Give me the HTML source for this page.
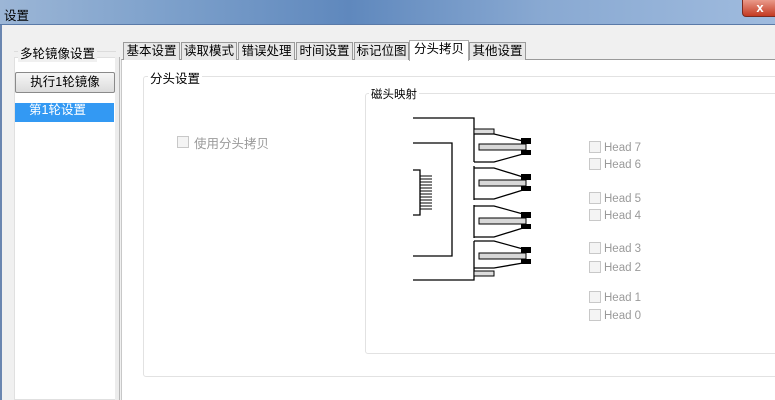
<!DOCTYPE html>
<html><head><meta charset="utf-8"><style>
*{margin:0;padding:0;box-sizing:border-box}
body{width:775px;height:400px;overflow:hidden;position:relative;background:#f0f0f0;font-family:"Liberation Sans","Noto Sans CJK SC",sans-serif;font-size:12px;color:#000}
.a{position:absolute}
.title{left:0;top:0;width:775px;height:25px;background:linear-gradient(90deg,#9cb6d6 0%,#7fa2cc 20%,#5f88bd 45%,#89a9d2 70%,#9fbbde 100%);border-bottom:1px solid #5a7aa8}
.tab{position:absolute;top:42px;height:18px;background:#e8e8e8;border:1px solid #9a9a9a;border-bottom:none;font-size:12.5px;line-height:16px;text-align:center}
.cb{position:absolute;width:12px;height:12px;border:1px solid #c8c8c8;background:#f4f4f4}
.hl{position:absolute;color:#9a9a9a;font-size:11.5px;line-height:12px}
</style></head><body>
<div class="a title"></div>
<div class="a" style="left:4px;top:5px;font-size:12.5px">设置</div>
<div class="a" style="left:742px;top:0;width:36px;height:17px;background:linear-gradient(#e99a8a,#c43a22);border:1px solid #7a2a20;border-top:none;border-radius:0 0 0 4px;color:#fff;font-weight:bold;font-size:13px;text-align:center;line-height:15px">x</div>
<div class="a" style="left:0;top:25px;width:2px;height:375px;background:#6a86b0"></div>

<div class="a" style="left:14px;top:57px;width:102px;height:343px;background:#fff;border:1px solid #e0e0e0"></div>
<div class="a" style="left:14px;top:51px;width:102px;border-top:1px solid #dcdcdc"></div>
<div class="a" style="left:18px;top:43px;background:#f0f0f0;padding:0 2px;font-size:12.5px">多轮镜像设置</div>
<div class="a" style="left:15px;top:72px;width:100px;height:21px;background:linear-gradient(#f6f6f6,#dcdcdc);border:1px solid #8a8a8a;border-radius:2px;text-align:center;line-height:19px;font-size:12.5px">执行1轮镜像</div>
<div class="a" style="left:15px;top:103px;width:99px;height:19px;background:#3399f3;color:#fff;padding-left:14px;line-height:14px;font-size:12.5px">第1轮设置</div>
<div class="a" style="left:115px;top:57px;width:5px;height:343px;background:#ececec;border-right:1px solid #b8b8b8"></div>

<div class="a" style="left:121px;top:59px;width:654px;height:341px;background:#fff;border-top:1px solid #9a9a9a;border-left:1px solid #c8c8c8"></div>
<div class="tab" style="left:123px;width:57px">基本设置</div>
<div class="tab" style="left:181px;width:56px">读取模式</div>
<div class="tab" style="left:238px;width:57px">错误处理</div>
<div class="tab" style="left:296px;width:57px">时间设置</div>
<div class="tab" style="left:354px;width:55px">标记位图</div>
<div class="tab" style="left:409px;top:40px;height:21px;width:60px;background:#fff;border-color:#aaa">分头拷贝</div>
<div class="tab" style="left:469px;width:57px">其他设置</div>

<div class="a" style="left:143px;top:76px;width:640px;height:301px;border:1px solid #e2e2e2;border-radius:3px"></div>
<div class="a" style="left:148px;top:68px;background:#fff;padding:0 2px;font-size:12.5px">分头设置</div>
<div class="cb" style="left:177px;top:136px"></div>
<div class="a" style="left:194px;top:133px;color:#9a9a9a;font-size:12.5px">使用分头拷贝</div>

<div class="a" style="left:365px;top:93px;width:420px;height:261px;border:1px solid #e2e2e2;border-radius:3px"></div>
<div class="a" style="left:369px;top:86px;background:#fff;padding:0 2px;font-size:11.5px">磁头映射</div>

<svg class="a" style="left:0;top:0" width="775" height="400">
<g fill="none" stroke="#000" stroke-width="1.3">
<polyline points="413,118 474,118 474,162"/>
<polyline points="413,280 474,280 474,268"/>
<polyline points="413,143 452,143 452,256 413,256"/>
<polyline points="413,170 420,170 420,215 413,215"/>
<line x1="474" y1="166" x2="474" y2="200"/>
<line x1="474" y1="205" x2="474" y2="238"/>
<line x1="474" y1="241" x2="474" y2="268"/>
</g>
<g stroke="#000" stroke-width="1">
<line x1="420" y1="176" x2="432" y2="176"/><line x1="420" y1="179" x2="432" y2="179"/><line x1="420" y1="182" x2="432" y2="182"/><line x1="420" y1="185" x2="432" y2="185"/><line x1="420" y1="188" x2="432" y2="188"/><line x1="420" y1="191" x2="432" y2="191"/><line x1="420" y1="194" x2="432" y2="194"/><line x1="420" y1="197" x2="432" y2="197"/><line x1="420" y1="200" x2="432" y2="200"/><line x1="420" y1="203" x2="432" y2="203"/><line x1="420" y1="206" x2="432" y2="206"/><line x1="420" y1="209" x2="432" y2="209"/>
</g>
<rect x="474" y="129" width="20" height="5" fill="#ddd" stroke="#000"/>
<rect x="474" y="271" width="20" height="5" fill="#ddd" stroke="#000"/>
<g stroke="#000" stroke-width="1.3" fill="none">
<polyline points="474,134 494,134 523,141"/><polyline points="474,162 494,162 523,154"/>
<polyline points="474,168 494,168 523,177"/><polyline points="474,199 494,199 523,190"/>
<polyline points="474,206 494,206 523,214"/><polyline points="474,237 494,237 523,228"/>
<polyline points="474,241 494,241 523,249"/><polyline points="474,268 494,268 523,263"/>
</g>
<g fill="#d8d8d8" stroke="#000" stroke-width="1">
<rect x="479" y="144" width="47" height="6"/><rect x="479" y="180" width="47" height="6"/><rect x="479" y="218" width="47" height="6"/><rect x="479" y="253" width="47" height="6"/>
</g>
<g fill="#000">
<rect x="521" y="138" width="10" height="6"/><rect x="521" y="150" width="10" height="5"/>
<rect x="521" y="174" width="10" height="6"/><rect x="521" y="186" width="10" height="5"/>
<rect x="521" y="212" width="10" height="6"/><rect x="521" y="224" width="10" height="5"/>
<rect x="521" y="247" width="10" height="6"/><rect x="521" y="259" width="10" height="5"/>
</g>
</svg>

<div class="cb" style="left:589px;top:141px"></div><div class="hl" style="left:604px;top:142px">Head 7</div>
<div class="cb" style="left:589px;top:158px"></div><div class="hl" style="left:604px;top:159px">Head 6</div>
<div class="cb" style="left:589px;top:192px"></div><div class="hl" style="left:604px;top:193px">Head 5</div>
<div class="cb" style="left:589px;top:209px"></div><div class="hl" style="left:604px;top:210px">Head 4</div>
<div class="cb" style="left:589px;top:242px"></div><div class="hl" style="left:604px;top:243px">Head 3</div>
<div class="cb" style="left:589px;top:261px"></div><div class="hl" style="left:604px;top:262px">Head 2</div>
<div class="cb" style="left:589px;top:291px"></div><div class="hl" style="left:604px;top:292px">Head 1</div>
<div class="cb" style="left:589px;top:309px"></div><div class="hl" style="left:604px;top:310px">Head 0</div>
</body></html>
